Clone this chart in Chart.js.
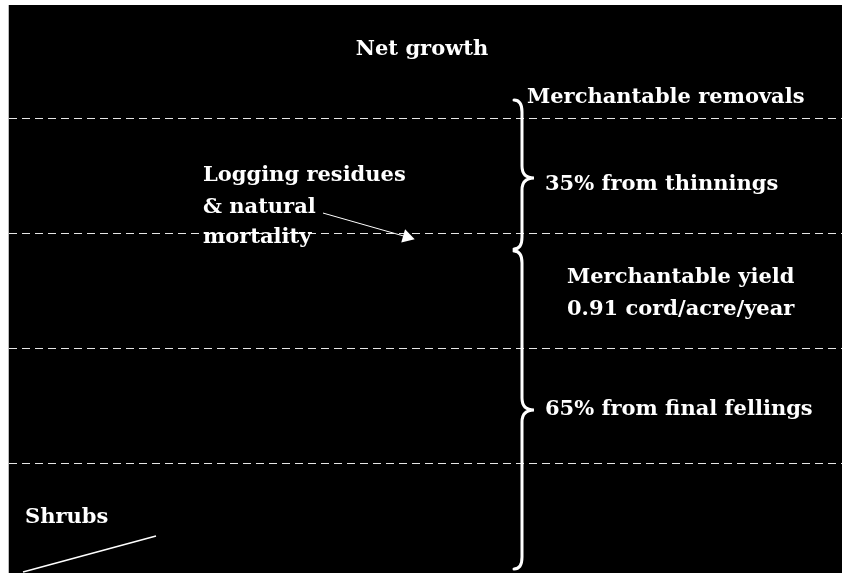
<!DOCTYPE html>
<html>
<head>
<meta charset="utf-8">
<script src="https://cdn.jsdelivr.net/npm/chart.js@4.4.0/dist/chart.umd.min.js"></script>
<style>
  html, body { margin: 0; padding: 0; background: #fff; }
</style>
</head>
<body>
<canvas id="chart" width="842" height="573"></canvas>
<script>
// growth levels (cords/acre/year scale, top of diagram = net growth)
const gridLevels = [1, 2, 3, 4];
const yMin = 0.052;
const yMax = 4.991;

const labelTexts = [
  "Net growth",
  "Merchantable removals",
  "35% from thinnings",
  "Logging residues",
  "& natural",
  "mortality",
  "Merchantable yield",
  "0.91 cord/acre/year",
  "65% from final fellings",
  "Shrubs",
];

// pointer lines (x along the diagram, y in growth units)
const residueArrowX = [323, 407];
const residueArrowY = [3.182, 2.974];
const shrubLineX = [23, 156];
const shrubLineY = [0.06, 0.373];

// where each label sits
const labelLayout = [
  { x: 422, y: 4.6, align: "center" },
  { x: 527, y: 4.182, align: "left" },
  { x: 545, y: 3.426, align: "left" },
  { x: 203, y: 3.504, align: "left" },
  { x: 203, y: 3.234, align: "left" },
  { x: 203, y: 2.965, align: "left" },
  { x: 567, y: 2.617, align: "left" },
  { x: 567, y: 2.339, align: "left" },
  { x: 545, y: 1.469, align: "left" },
  { x: 25, y: 0.53, align: "left" },
];

// braces: top, tip, bottom in growth units
const braces = [
  { x: 514, top: 4.165, mid: 3.487, bottom: 2.869 },
  { x: 514, top: 2.852, mid: 1.469, bottom: 0.087 },
];

const backgroundPlugin = {
  id: "background",
  beforeDraw(chart) {
    const { ctx, chartArea } = chart;
    ctx.save();
    ctx.fillStyle = "#000";
    ctx.fillRect(chartArea.left, chartArea.top, chartArea.right - chartArea.left, chartArea.bottom - chartArea.top);
    ctx.strokeStyle = "#bbb";
    ctx.lineWidth = 1;
    ctx.beginPath();
    ctx.moveTo(chartArea.left - 0.5, chartArea.top);
    ctx.lineTo(chartArea.left - 0.5, chartArea.bottom);
    ctx.stroke();
    ctx.restore();
  },
};

function drawBrace(ctx, x0, yTop, yMid, yBot) {
  const stem = x0 + 8;
  const tip = x0 + 20;
  const r = 12;
  ctx.beginPath();
  ctx.moveTo(x0, yTop);
  ctx.quadraticCurveTo(stem, yTop, stem, yTop + r);
  ctx.lineTo(stem, yMid - r);
  ctx.quadraticCurveTo(stem, yMid, tip, yMid);
  ctx.quadraticCurveTo(stem, yMid, stem, yMid + r);
  ctx.lineTo(stem, yBot - r);
  ctx.quadraticCurveTo(stem, yBot, x0, yBot);
  ctx.stroke();
}

const annotationPlugin = {
  id: "annotations",
  afterDatasetsDraw(chart) {
    const { ctx, scales } = chart;
    const x = scales.x;
    const y = scales.y;
    ctx.save();
    ctx.strokeStyle = "#fff";
    ctx.lineWidth = 3;
    ctx.lineCap = "round";
    braces.forEach((b) => {
      drawBrace(ctx, x.getPixelForValue(b.x), y.getPixelForValue(b.top), y.getPixelForValue(b.mid), y.getPixelForValue(b.bottom));
    });

    ctx.fillStyle = "#fff";
    ctx.font = "bold 21px 'DejaVu Serif'";
    ctx.textBaseline = "middle";
    labelTexts.forEach((text, i) => {
      const pos = labelLayout[i];
      ctx.textAlign = pos.align;
      ctx.fillText(text, x.getPixelForValue(pos.x), y.getPixelForValue(pos.y));
    });
    ctx.restore();
  },
};

new Chart(document.getElementById("chart"), {
  type: "line",
  data: {
    datasets: [
      {
        data: residueArrowX.map((v, i) => ({ x: v, y: residueArrowY[i] })),
        borderColor: "#fff",
        borderWidth: 1,
        pointStyle: "triangle",
        pointRadius: [0, 8],
        rotation: 106,
        pointBackgroundColor: "#fff",
        pointBorderWidth: 0,
      },
      {
        data: shrubLineX.map((v, i) => ({ x: v, y: shrubLineY[i] })),
        borderColor: "#fff",
        borderWidth: 1.5,
        pointRadius: 0,
      },
    ],
  },
  options: {
    responsive: false,
    devicePixelRatio: 1,
    animation: false,
    layout: {
      autoPadding: false,
      padding: { left: 9, top: 5, right: 0, bottom: 0 },
    },
    plugins: {
      legend: { display: false },
      tooltip: { enabled: false },
    },
    scales: {
      x: {
        type: "linear",
        min: 9,
        max: 842,
        display: false,
      },
      y: {
        type: "linear",
        min: yMin,
        max: yMax,
        afterBuildTicks: (scale) => {
          scale.ticks = gridLevels.map((v) => ({ value: v }));
        },
        ticks: { display: false },
        grid: {
          color: "rgba(255, 255, 255, 0.9)",
          lineWidth: 1,
          drawTicks: false,
        },
        border: {
          display: false,
          dash: [8, 5],
        },
      },
    },
  },
  plugins: [backgroundPlugin, annotationPlugin],
});
</script>
</body>
</html>
